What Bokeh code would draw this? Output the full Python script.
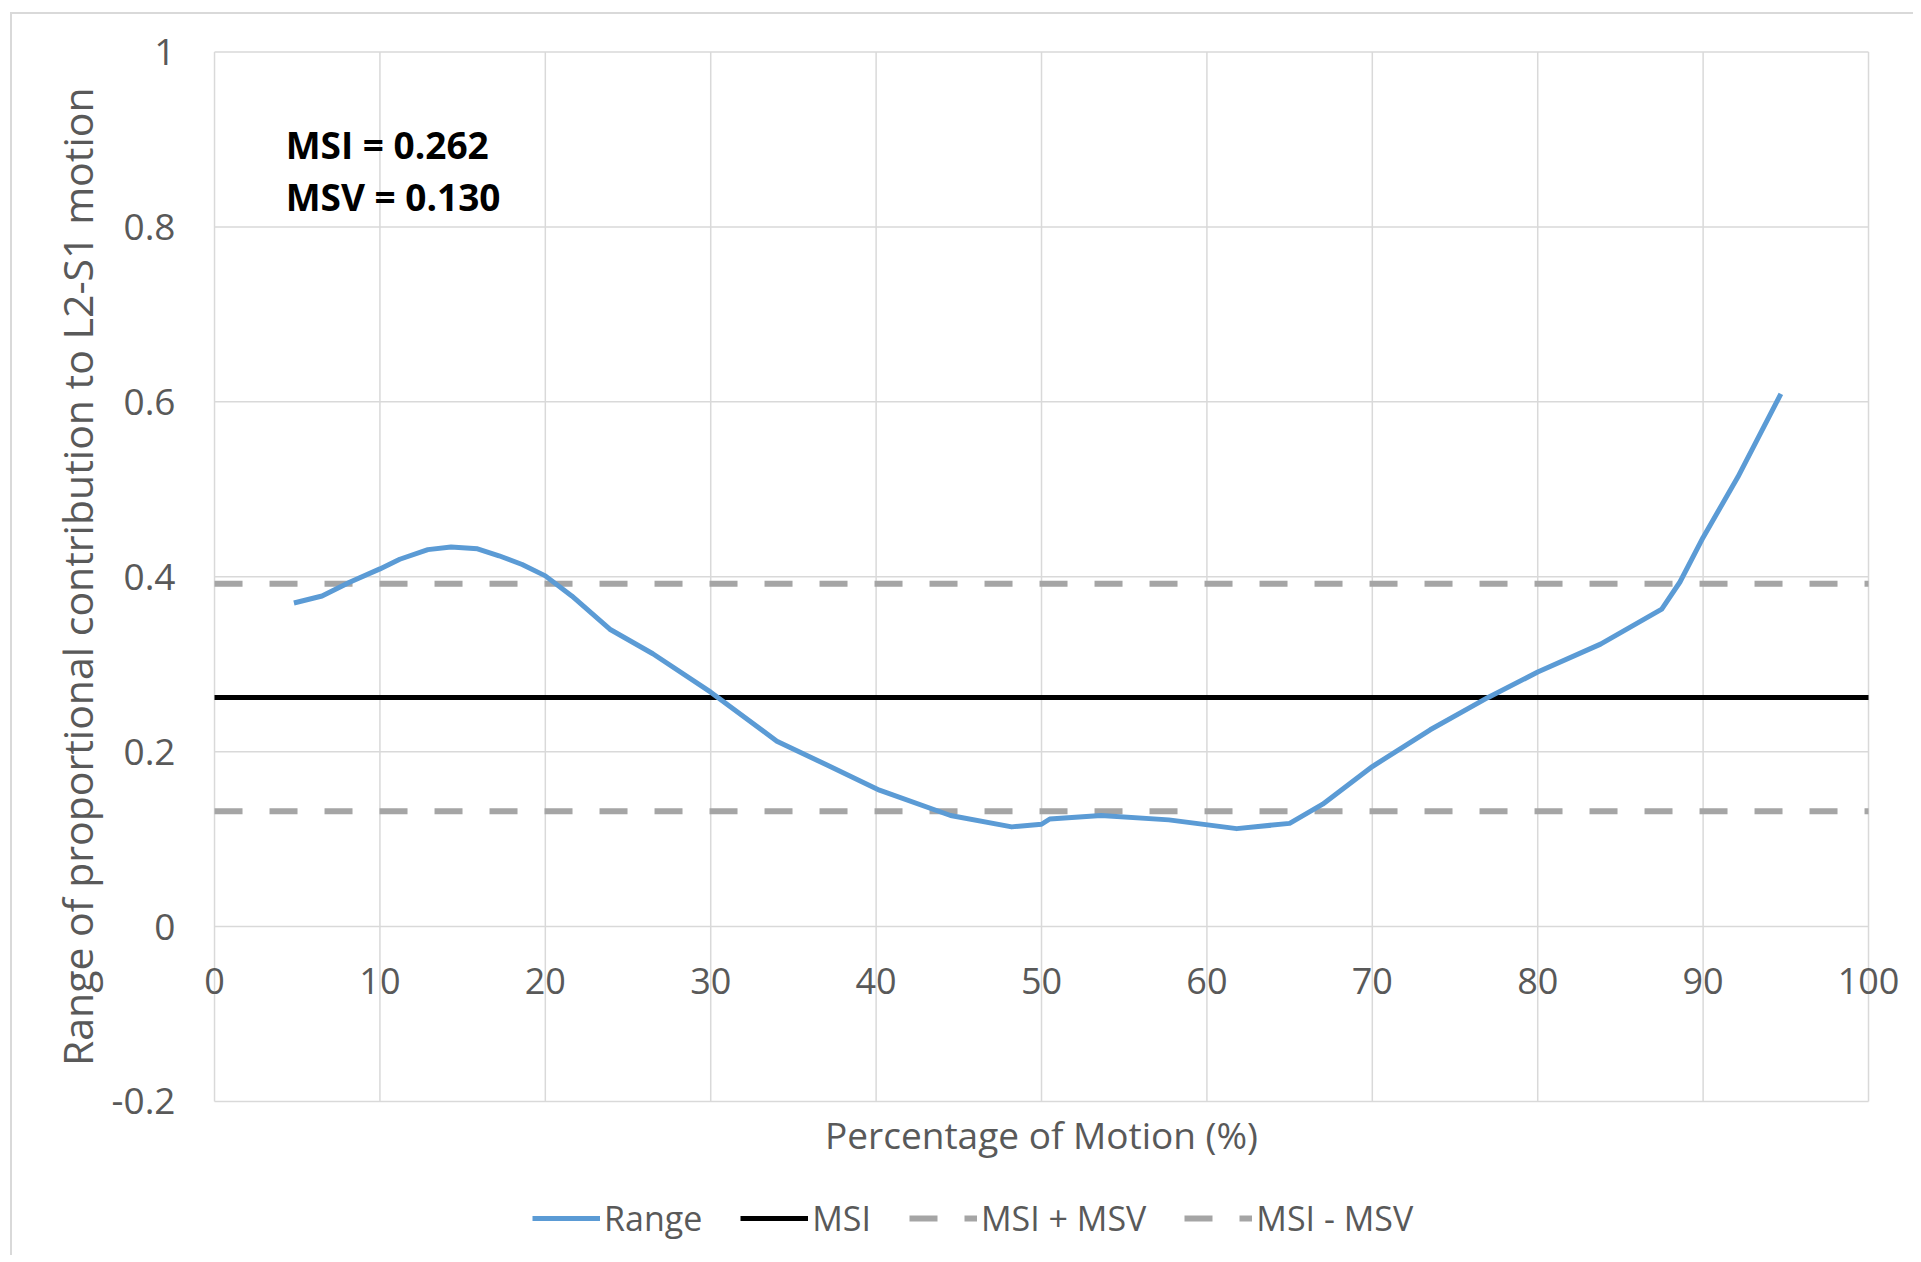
import math
from bokeh.plotting import figure
from bokeh.models import (Legend, LegendItem, Label, LabelSet, ColumnDataSource)
from bokeh.core.properties import value
from bokeh.embed import file_html
from bokeh.resources import INLINE

# ---- data ----
pct_motion = [4.8, 6.5, 8.2, 10.0, 11.2, 12.9, 14.3, 15.9, 17.2, 18.6, 20.0,
              21.6, 23.9, 26.5, 30.0, 34.0, 37.0, 40.2, 44.5, 48.2, 50.0,
              50.5, 53.6, 57.7, 61.8, 65.0, 67.0, 70.0, 73.5, 77.0, 80.0,
              83.8, 87.5, 88.6, 90.0, 92.1, 94.7]
range_vals = [0.370, 0.378, 0.394, 0.409, 0.420, 0.431, 0.434, 0.432, 0.424,
              0.414, 0.401, 0.378, 0.340, 0.312, 0.268, 0.212, 0.185, 0.156,
              0.127, 0.114, 0.117, 0.123, 0.127, 0.122, 0.112, 0.118, 0.140,
              0.183, 0.225, 0.262, 0.291, 0.323, 0.363, 0.394, 0.445, 0.514,
              0.609]
MSI = 0.262
MSV = 0.130
x_limits = [0, 100]
y_limits = [-0.2, 1.0]
x_ticks = [0, 10, 20, 30, 40, 50, 60, 70, 80, 90, 100]
x_tick_text = ["0", "10", "20", "30", "40", "50", "60", "70", "80", "90", "100"]
y_ticks = [-0.2, 0, 0.2, 0.4, 0.6, 0.8, 1.0]
y_tick_text = ["-0.2", "0", "0.2", "0.4", "0.6", "0.8", "1"]
series_names = ["Range", "MSI", "MSI + MSV", "MSI - MSV"]
annot_lines = ["MSI = 0.262", "MSV = 0.130"]
x_title = "Percentage of Motion (%)"
y_title = "Range of proportional contribution to L2-S1 motion"

FONT = "Open Sans"
GRAY_TXT = "#595959"
GRID = "#d9d9d9"

# The frame covers the whole figure; the plot area (0-100, -0.2-1) sits
# inside it and every text is drawn relative to that area.
p = figure(width=1913, height=1255, output_backend="svg", toolbar_location=None,
           x_range=(-12.94, 102.72), y_range=(-0.3761, 1.0589),
           x_axis_location=None, y_axis_location=None,
           min_border=0, min_border_left=0, min_border_right=0,
           min_border_top=0, min_border_bottom=0)
p.background_fill_color = None
p.border_fill_color = None
p.outline_line_color = None
p.grid.visible = False
p.styles = {
    "background-color": "white",
    "background-image": "linear-gradient(#d9d9d9, #d9d9d9), linear-gradient(#d9d9d9, #d9d9d9)",
    "background-size": "2px 100%, 100% 2px",
    "background-position": "10px 12px, 10px 12px",
    "background-repeat": "no-repeat",
}

# grid lines of the plot area
p.segment(x0=[x_limits[0]] * len(y_ticks), x1=[x_limits[1]] * len(y_ticks),
          y0=y_ticks, y1=y_ticks, line_color=GRID, line_width=1.5)
p.segment(x0=x_ticks, x1=x_ticks, y0=[y_limits[0]] * len(x_ticks),
          y1=[y_limits[1]] * len(x_ticks), line_color=GRID, line_width=1.5)

# tick labels
ysrc = ColumnDataSource(dict(x=[x_limits[0]] * len(y_ticks), y=y_ticks,
                             t=y_tick_text))
p.add_layout(LabelSet(x="x", y="y", text="t", source=ysrc, x_offset=-39,
                      text_align="right", text_baseline="middle",
                      text_font=value(FONT), text_font_size=value("37px"),
                      text_color=GRAY_TXT))
xsrc = ColumnDataSource(dict(x=x_ticks, y=[0] * len(x_ticks), t=x_tick_text))
p.add_layout(LabelSet(x="x", y="y", text="t", source=xsrc, y_offset=-54,
                      text_align="center", text_baseline="middle",
                      text_font=value(FONT), text_font_size=value("36px"),
                      text_color=GRAY_TXT))

# axis titles
p.add_layout(Label(x=x_limits[0], y=(y_limits[0] + y_limits[1]) / 2,
                   x_offset=-138, text=y_title, angle=math.pi / 2,
                   text_align="center", text_baseline="middle",
                   text_font=FONT, text_font_size="41px",
                   text_color=GRAY_TXT))
p.add_layout(Label(x=(x_limits[0] + x_limits[1]) / 2, y=y_limits[0],
                   y_offset=-33, text=x_title, text_align="center",
                   text_baseline="middle", text_font=FONT,
                   text_font_size="37px", text_color=GRAY_TXT))

# series
r_msi = p.line(x_limits, [MSI, MSI], line_color="black", line_width=5)
r_up = p.line(x_limits, [MSI + MSV, MSI + MSV], line_color="#a5a5a5",
              line_width=6, line_dash="28 27")
r_lo = p.line(x_limits, [MSI - MSV, MSI - MSV], line_color="#a5a5a5",
              line_width=6, line_dash="28 27")
r_range = p.line(pct_motion, range_vals, line_color="#5b9bd5", line_width=5,
                 line_join="round")

# annotation text
for txt, yy in zip(annot_lines, [0.894, 0.835]):
    p.add_layout(Label(x=4.3, y=yy, text=txt, text_font=FONT,
                       text_font_size="37px", text_font_style="bold",
                       text_color="black", text_baseline="middle"))

legend = Legend(items=[LegendItem(label=series_names[0], renderers=[r_range]),
                       LegendItem(label=series_names[1], renderers=[r_msi]),
                       LegendItem(label=series_names[2], renderers=[r_up]),
                       LegendItem(label=series_names[3], renderers=[r_lo])],
                orientation="horizontal", location=(532, 14),
                glyph_width=68, glyph_height=20, label_standoff=4, spacing=38,
                padding=0, margin=0, border_line_color=None,
                background_fill_alpha=0, label_text_font=FONT,
                label_text_font_size="34px", label_text_color=GRAY_TXT)
p.add_layout(legend, "center")

open("out.html", "w").write(file_html(p, INLINE))
